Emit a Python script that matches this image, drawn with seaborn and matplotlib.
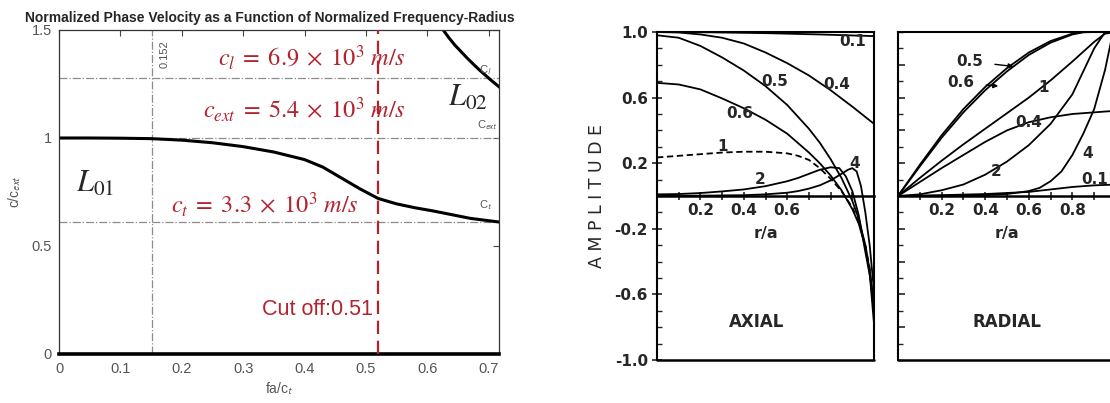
import matplotlib
matplotlib.use("Agg")
import matplotlib.pyplot as plt
import seaborn as sns
from matplotlib.ticker import FixedLocator, MultipleLocator, FuncFormatter, NullFormatter

sns.set_style("white")
plt.rcParams["font.family"] = ["DejaVu Sans"]
plt.rcParams["mathtext.fontset"] = "stix"
plt.rcParams["axes.unicode_minus"] = False

# ---------------- left panel data ----------------
l01_x = [0, 0.05, 0.10, 0.15, 0.20, 0.25, 0.30, 0.35, 0.40, 0.43, 0.46, 0.49, 0.52,
         0.55, 0.58, 0.61, 0.64, 0.67, 0.70, 0.72]
l01_y = [1.0, 1.0, 0.999, 0.997, 0.99, 0.978, 0.96, 0.935, 0.90, 0.865, 0.815, 0.765, 0.72,
         0.695, 0.677, 0.662, 0.645, 0.628, 0.617, 0.61]
l02_x = [0.626, 0.635, 0.645, 0.655, 0.665, 0.675, 0.685, 0.695, 0.705, 0.72]
l02_y = [1.5, 1.465, 1.43, 1.40, 1.37, 1.342, 1.315, 1.29, 1.265, 1.23]
speed_ratios = [1.278, 1.0, 0.611]          # c_l, c_ext, c_t over c_ext
speed_tags = ["C$_\\mathsf{l}$", "C$_\\mathsf{ext}$", "C$_\\mathsf{t}$"]
ref_freq = 0.152
cut_off = 0.52
left_xticks = [0, 0.1, 0.2, 0.3, 0.4, 0.5, 0.6, 0.7]
left_yticks = [0, 0.5, 1, 1.5]

# ---------------- axial panel data ----------------
ax_r_01 = [0, 0.25, 0.5, 0.75, 1.0]
ax_a_01 = [1.0, 0.998, 0.993, 0.985, 0.975]
ax_r_04 = [0, 0.1, 0.2, 0.3, 0.4, 0.5, 0.6, 0.7, 0.8, 0.9, 1.0]
ax_a_04 = [1.0, 0.997, 0.985, 0.965, 0.93, 0.875, 0.81, 0.735, 0.645, 0.545, 0.44]
ax_r_05 = [0, 0.1, 0.2, 0.3, 0.4, 0.5, 0.6, 0.7, 0.75, 0.8, 0.85, 0.9, 0.93, 0.96, 0.98, 1.0]
ax_a_05 = [0.98, 0.965, 0.915, 0.845, 0.765, 0.67, 0.555, 0.41, 0.325, 0.225, 0.11, -0.03,
           -0.14, -0.3, -0.47, -0.78]
ax_r_06 = [0, 0.1, 0.2, 0.3, 0.4, 0.5, 0.6, 0.7, 0.75, 0.8, 0.85, 0.9, 0.93, 0.96, 0.98, 1.0]
ax_a_06 = [0.69, 0.68, 0.65, 0.595, 0.535, 0.465, 0.38, 0.265, 0.2, 0.125, 0.035, -0.08,
           -0.17, -0.31, -0.45, -0.72]
ax_r_1 = [0, 0.1, 0.2, 0.3, 0.4, 0.5, 0.6, 0.65, 0.7, 0.75, 0.8, 0.85, 0.9, 0.93, 0.96, 0.98, 1.0]
ax_a_1 = [0.235, 0.245, 0.255, 0.265, 0.27, 0.27, 0.26, 0.245, 0.22, 0.17, 0.105, 0.03,
          -0.07, -0.16, -0.3, -0.44, -0.68]
ax_r_2 = [0, 0.1, 0.2, 0.3, 0.4, 0.5, 0.6, 0.65, 0.7, 0.75, 0.8, 0.84, 0.87, 0.9, 0.93, 0.96, 0.98, 1.0]
ax_a_2 = [0.01, 0.012, 0.018, 0.028, 0.04, 0.06, 0.09, 0.11, 0.135, 0.16, 0.175, 0.17, 0.12,
          0.03, -0.12, -0.34, -0.48, -0.64]
ax_r_4 = [0, 0.2, 0.4, 0.5, 0.6, 0.65, 0.7, 0.75, 0.8, 0.85, 0.88, 0.9, 0.92, 0.94, 0.96, 0.98, 1.0]
ax_a_4 = [0, 0.002, 0.005, 0.01, 0.02, 0.03, 0.045, 0.065, 0.095, 0.135, 0.16, 0.17, 0.15,
          0.06, -0.1, -0.3, -0.58]

# ---------------- radial panel data ----------------
rd_r_01 = [0, 0.2, 0.4, 0.6, 0.7, 0.8, 0.9, 1.0]
rd_a_01 = [0, 0.005, 0.012, 0.025, 0.04, 0.055, 0.065, 0.07]
rd_r_04 = [0, 0.1, 0.2, 0.3, 0.4, 0.5, 0.6, 0.7, 0.8, 0.9, 1.0]
rd_a_04 = [0, 0.085, 0.17, 0.25, 0.33, 0.4, 0.45, 0.48, 0.5, 0.51, 0.52]
rd_r_05 = [0, 0.1, 0.2, 0.3, 0.4, 0.5, 0.6, 0.7, 0.8, 0.85, 0.9, 0.95, 1.0]
rd_a_05 = [0, 0.19, 0.37, 0.53, 0.665, 0.78, 0.875, 0.945, 0.99, 1.0, 1.0, 1.0, 1.0]
rd_r_06 = [0, 0.1, 0.2, 0.3, 0.4, 0.5, 0.6, 0.7, 0.8, 0.85, 0.9, 0.95, 1.0]
rd_a_06 = [0, 0.18, 0.355, 0.51, 0.645, 0.76, 0.86, 0.935, 0.985, 0.998, 1.0, 1.0, 1.0]
rd_r_1 = [0, 0.1, 0.2, 0.3, 0.4, 0.5, 0.6, 0.7, 0.8, 0.9, 0.95, 1.0]
rd_a_1 = [0, 0.11, 0.215, 0.315, 0.41, 0.505, 0.6, 0.705, 0.82, 0.94, 0.99, 1.0]
rd_r_2 = [0, 0.1, 0.2, 0.3, 0.4, 0.5, 0.6, 0.7, 0.8, 0.85, 0.9, 0.95, 1.0]
rd_a_2 = [0, 0.01, 0.035, 0.07, 0.13, 0.21, 0.31, 0.44, 0.62, 0.76, 0.9, 1.0, 1.0]
rd_r_4 = [0, 0.2, 0.4, 0.5, 0.6, 0.65, 0.7, 0.75, 0.8, 0.85, 0.9, 0.95, 0.98, 1.0]
rd_a_4 = [0, 0.002, 0.006, 0.012, 0.03, 0.05, 0.09, 0.15, 0.25, 0.38, 0.53, 0.77, 0.96, 1.0]

amp_ticks = [1.0, 0.6, 0.2, -0.2, -0.6, -1.0]

RED = "#b3232f"
GRAY = "#8c8c8c"

fig = plt.figure(figsize=(11.10, 4.03), dpi=100)

# ================= left panel =================
ax1 = fig.add_axes([0.0532, 0.1216, 0.3964, 0.804])
sns.lineplot(x=l01_x, y=l01_y, ax=ax1, color="black", lw=2.2)
sns.lineplot(x=l02_x, y=l02_y, ax=ax1, color="black", lw=2.2)
for r in speed_ratios:
    ax1.axhline(r, color=GRAY, lw=0.9, ls="-.", zorder=1)
ax1.axvline(ref_freq, color=GRAY, lw=0.9, ls="-.", zorder=1)
ax1.axvline(cut_off, color=RED, lw=1.6, ls=(0, (6, 3)), zorder=3)
ax1.set_xlim(0, 0.717)
ax1.set_ylim(0, 1.5)
ax1.xaxis.set_major_locator(FixedLocator(left_xticks))
ax1.yaxis.set_major_locator(FixedLocator(left_yticks))
ax1.xaxis.set_major_formatter(FuncFormatter(lambda v, p: f"{v:g}"))
ax1.yaxis.set_major_formatter(FuncFormatter(lambda v, p: f"{v:g}"))
ax1.tick_params(direction="in", length=4, width=0.8, colors="#444444", labelsize=10.5,
                top=True, right=True, labelcolor="#555555")
ax1.tick_params(axis="x", pad=6)
ax1.tick_params(axis="y", pad=5)
for lab in ax1.get_xticklabels() + ax1.get_yticklabels():
    lab.set_family("Liberation Sans")
for s in ["top", "right", "left"]:
    ax1.spines[s].set_color("#333333")
    ax1.spines[s].set_linewidth(0.9)
ax1.spines["bottom"].set_color("black")
ax1.spines["bottom"].set_linewidth(2.6)
ax1.set_xlabel("fa/c$_\\mathsf{t}$", fontsize=10, color="#555555", family="Liberation Sans",
               labelpad=3)
ax1.set_ylabel("c/c$_\\mathsf{ext}$", fontsize=10, color="#555555", family="Liberation Sans",
               labelpad=6)
fig.text(0.243, 0.955, "Normalized Phase Velocity as a Function of Normalized Frequency-Radius",
         ha="center", va="center", fontsize=10, fontweight="bold", family="Liberation Sans")

ax1.text(0.412, 1.372, r"$c_l\;=\;6.9\;\times\;10^3\ m/s$", color=RED, fontsize=17.5,
         ha="center", va="center")
ax1.text(0.40, 1.13, r"$c_{ext}\;=\;5.4\;\times\;10^3\ m/s$", color=RED, fontsize=17.5,
         ha="center", va="center")
ax1.text(0.335, 0.69, r"$c_t\;=\;3.3\;\times\;10^3\ m/s$", color=RED, fontsize=17.5,
         ha="center", va="center")
ax1.text(0.512, 0.205, "Cut off:0.51", color=RED, fontsize=15.5, ha="right", va="center",
         family="Liberation Sans")
ax1.text(0.058, 0.79, r"$L_{01}$", fontsize=22, ha="center", va="center")
ax1.text(0.667, 1.19, r"$L_{02}$", fontsize=22, ha="center", va="center")
tag_pos = [(0.694, 1.315), (0.698, 1.06), (0.695, 0.69)]
for (tx, ty), tag in zip(tag_pos, speed_tags):
    ax1.text(tx, ty, tag, fontsize=8, color="#555555", ha="center", va="center",
             family="Liberation Sans")
ax1.text(0.172, 1.39, "0.152", rotation=90, fontsize=8, color="#555555", ha="center",
         va="center", family="Liberation Sans")


# ================= amplitude panels =================
def style_amp(ax, ylabels, xlabels):
    ax.set_xlim(0, 1.0)
    ax.set_ylim(-1.0, 1.0)
    for s in ["top", "left", "right"]:
        ax.spines[s].set_linewidth(1.5)
        ax.spines[s].set_color("black")
    ax.spines["bottom"].set_position(("data", 0))
    ax.spines["bottom"].set_linewidth(1.8)
    ax.spines["bottom"].set_color("black")
    ax.axhline(-1.0, color="black", lw=1.8, clip_on=False)
    ax.xaxis.set_major_locator(FixedLocator([0.1 * i for i in range(1, 10)]))
    ax.xaxis.set_major_formatter(FuncFormatter(
        lambda v, p: f"{v:.1f}" if any(abs(v - t) < 1e-6 for t in xlabels) else ""))
    ax.tick_params(axis="x", direction="inout", length=6, width=1.2, labelsize=11, pad=2,
                   top=False, bottom=True)
    ax.yaxis.set_major_locator(FixedLocator(amp_ticks if ylabels else [0.8, 0.4, 0.0, -0.4, -0.8,
                                                                      0.6, 0.2, -0.2, -0.6]))
    ax.yaxis.set_minor_locator(MultipleLocator(0.1))
    if ylabels:
        ax.yaxis.set_major_formatter(FuncFormatter(lambda v, p: f"{v:.1f}"))
        ax.tick_params(axis="y", which="major", direction="inout", length=7, width=1.2,
                       labelsize=11, pad=3, left=True)
    else:
        ax.yaxis.set_major_formatter(NullFormatter())
        ax.tick_params(axis="y", which="major", direction="in", length=5, width=1.2, left=True)
    ax.tick_params(axis="y", which="minor", direction="in", length=3.5, width=1.0, left=True)
    for lab in ax.get_xticklabels() + ax.get_yticklabels():
        lab.set_fontweight("bold")
    ax.text(0.5, -0.23, "r/a", fontsize=11.5, fontweight="bold", ha="center", va="center")


LW = 1.3
ax2 = fig.add_axes([0.5919, 0.1067, 0.1955, 0.8139])
for rr, aa in [(ax_r_01, ax_a_01), (ax_r_04, ax_a_04), (ax_r_05, ax_a_05), (ax_r_06, ax_a_06),
               (ax_r_2, ax_a_2), (ax_r_4, ax_a_4)]:
    sns.lineplot(x=rr, y=aa, ax=ax2, color="black", lw=LW)
sns.lineplot(x=ax_r_1, y=ax_a_1, ax=ax2, color="black", lw=LW, linestyle=(0, (3.5, 2)))
style_amp(ax2, True, [0.2, 0.4, 0.6])
ax2.set_ylabel("A M P L I T U D E", fontsize=12.5, labelpad=6)
for txt, (tx, ty) in [("0.1", (0.9, 0.945)), ("0.4", (0.83, 0.68)), ("0.5", (0.54, 0.70)),
                      ("0.6", (0.38, 0.5)), ("1", (0.3, 0.3)), ("2", (0.475, 0.1)),
                      ("4", (0.91, 0.2))]:
    ax2.text(tx, ty, txt, fontsize=11, fontweight="bold", ha="center", va="center")
ax2.text(0.46, -0.77, "AXIAL", fontsize=12, fontweight="bold", ha="center", va="center")

ax3 = fig.add_axes([0.809, 0.1067, 0.1964, 0.8139])
for rr, aa in [(rd_r_01, rd_a_01), (rd_r_04, rd_a_04), (rd_r_05, rd_a_05), (rd_r_06, rd_a_06),
               (rd_r_1, rd_a_1), (rd_r_2, rd_a_2), (rd_r_4, rd_a_4)]:
    sns.lineplot(x=rr, y=aa, ax=ax3, color="black", lw=LW)
style_amp(ax3, False, [0.2, 0.4, 0.6, 0.8])
ax3.set_ylabel("")
ax3.annotate("0.5", xy=(0.53, 0.79), xytext=(0.33, 0.82), fontsize=11, fontweight="bold",
             ha="center", va="center",
             arrowprops=dict(arrowstyle="-|>", color="black", lw=1.0, mutation_scale=7,
                             shrinkA=6, shrinkB=0))
ax3.annotate("0.6", xy=(0.46, 0.67), xytext=(0.29, 0.69), fontsize=11, fontweight="bold",
             ha="center", va="center",
             arrowprops=dict(arrowstyle="-|>", color="black", lw=1.0, mutation_scale=7,
                             shrinkA=6, shrinkB=0))
for txt, (tx, ty) in [("1", (0.67, 0.66)), ("0.4", (0.6, 0.45)), ("2", (0.45, 0.15)),
                      ("4", (0.87, 0.26)), ("0.1", (0.9, 0.1))]:
    ax3.text(tx, ty, txt, fontsize=11, fontweight="bold", ha="center", va="center")
ax3.text(0.5, -0.77, "RADIAL", fontsize=12, fontweight="bold", ha="center", va="center")

fig.savefig("out.png", dpi=100)
